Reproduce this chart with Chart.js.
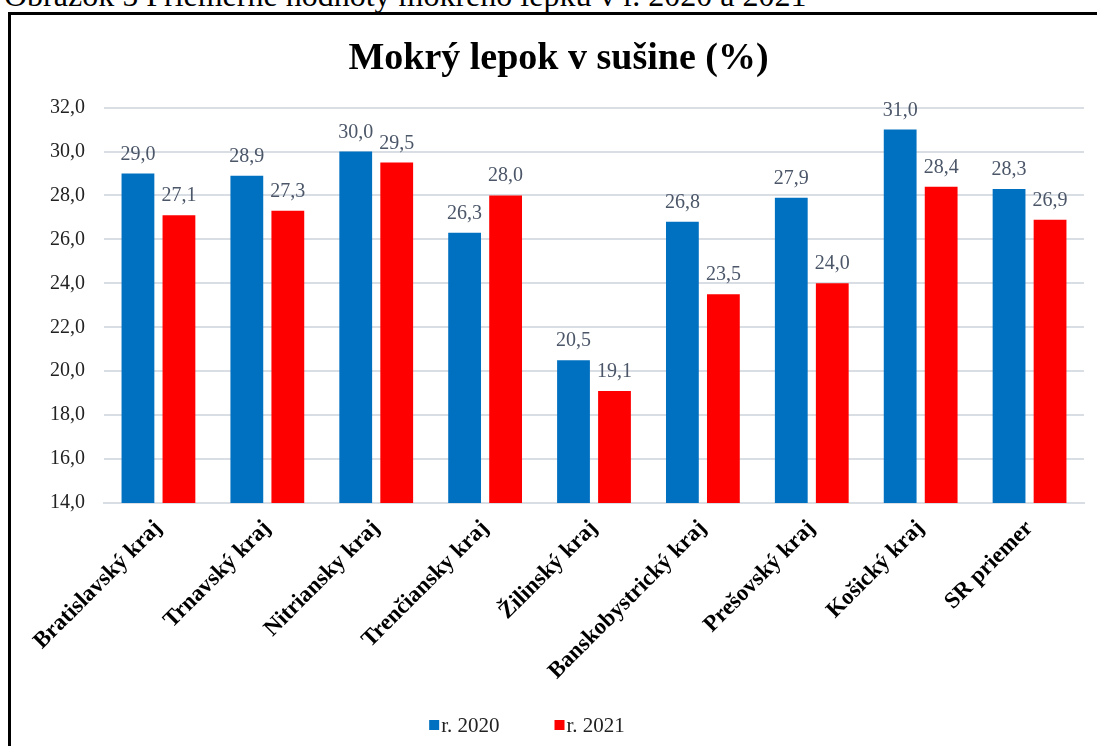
<!DOCTYPE html>
<html>
<head>
<meta charset="utf-8">
<script src="https://cdn.jsdelivr.net/npm/chart.js@4"></script>
<style>
  html, body { margin: 0; padding: 0; background: #fff; overflow: hidden; }
  body { width: 1097px; height: 746px; position: relative; }
  #caption {
    position: absolute; left: 4px; top: -21px; white-space: nowrap;
    font-family: 'Liberation Serif', serif; font-size: 32px; line-height: 32px; color: #000;
  }
  #frame {
    position: absolute; left: 8px; top: 12px; width: 1200px; height: 800px;
    border-left: 3px solid #000; border-top: 3px solid #000;
  }
  #wrap { position: absolute; left: 11px; top: 15px; width: 1108px; height: 731px; }
</style>
</head>
<body>
<div id="caption">Obrázok 5 Priemerné hodnoty mokrého lepku v r. 2020 a 2021</div>
<div id="frame"></div>
<div id="wrap"><canvas id="chart"></canvas></div>
<script>
'use strict';
const regions = ['Bratislavský kraj', 'Trnavský kraj', 'Nitriansky kraj', 'Trenčiansky kraj',
  'Žilinský kraj', 'Banskobystrický kraj', 'Prešovský kraj', 'Košický kraj', 'SR priemer'];
const values2020 = [29.0, 28.9, 30.0, 26.3, 20.5, 26.8, 27.9, 31.0, 28.3];
const values2021 = [27.1, 27.3, 29.5, 28.0, 19.1, 23.5, 24.0, 28.4, 26.9];
const seriesNames = ['r. 2020', 'r. 2021'];

const fmt = v => v.toFixed(1).replace('.', ',');

const valueLabels = {
  id: 'valueLabels',
  afterDatasetsDraw(chart) {
    const ctx = chart.ctx;
    ctx.save();
    ctx.font = '20px "Liberation Serif", serif';
    ctx.fillStyle = '#4b5668';
    ctx.textAlign = 'center';
    ctx.textBaseline = 'alphabetic';
    chart.data.datasets.forEach((ds, i) => {
      chart.getDatasetMeta(i).data.forEach((bar, j) => {
        ctx.fillText(fmt(ds.data[j]), bar.x, bar.y - 14);
      });
    });
    ctx.restore();
  }
};

// legend drawn by hand: the box sits right against the text, items far apart
const bottomLegend = {
  id: 'bottomLegend',
  afterDraw(chart) {
    const ctx = chart.ctx;
    ctx.save();
    ctx.font = '21px "Liberation Serif", serif';
    ctx.textBaseline = 'middle';
    const gap = 55;
    const items = chart.data.datasets.map(ds => ({
      text: ds.label, color: ds.backgroundColor, w: 12 + ctx.measureText(ds.label).width
    }));
    const total = items.reduce((s, it) => s + it.w, 0) + gap * (items.length - 1);
    let x = 516 - total / 2;
    const y = 710;
    items.forEach(it => {
      ctx.fillStyle = it.color;
      ctx.fillRect(x, y - 5, 10, 10);
      ctx.fillStyle = '#222';
      ctx.fillText(it.text, x + 12, y + 1);
      x += it.w + gap;
    });
    ctx.restore();
  }
};

new Chart(document.getElementById('chart'), {
  type: 'bar',
  data: {
    labels: regions,
    datasets: [
      { label: seriesNames[0], data: values2020, backgroundColor: '#0070C0' },
      { label: seriesNames[1], data: values2021, backgroundColor: '#FF0000' }
    ]
  },
  plugins: [valueLabels, bottomLegend],
  options: {
    responsive: true,
    maintainAspectRatio: false,
    animation: false,
    categoryPercentage: 0.753,
    barPercentage: 0.8,
    layout: { padding: { left: 22, right: 35, top: 0, bottom: 43 } },
    plugins: {
      title: {
        display: true,
        text: 'Mokrý lepok v sušine (%)',
        color: '#000',
        font: { family: '"Liberation Serif", serif', size: 38, weight: 'bold' },
        padding: { top: 21, bottom: 26 }
      },
      legend: { display: false },
      tooltip: { enabled: false }
    },
    scales: {
      x: {
        grid: { display: false },
        border: { color: '#d9dee5', width: 2 },
        ticks: {
          color: '#000',
          autoSkip: false,
          minRotation: 45,
          maxRotation: 45,
          padding: 4,
          font: { family: '"Liberation Serif", serif', size: 23, weight: 'bold' }
        },
        afterFit(scale) { scale.height = 200; }
      },
      y: {
        min: 14,
        max: 32,
        grid: { color: '#d9dee5', lineWidth: 2, drawTicks: false },
        border: { display: false },
        ticks: {
          stepSize: 2,
          color: '#222',
          padding: 19,
          callback: v => fmt(v),
          font: { family: '"Liberation Serif", serif', size: 20 }
        },
        afterFit(scale) { scale.width = 71; }
      }
    }
  }
});
</script>
</body>
</html>
